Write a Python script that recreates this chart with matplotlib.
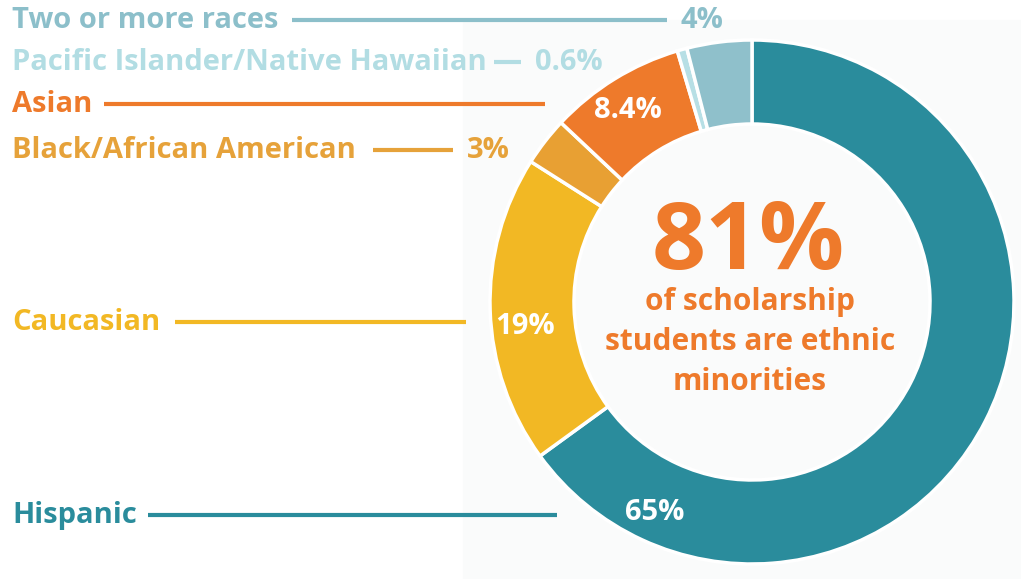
import matplotlib
matplotlib.use("Agg")
from matplotlib import pyplot as plt
from matplotlib.patches import Rectangle

W, H = 1021, 579

categories = ["Hispanic", "Caucasian", "Black/African American", "Asian",
              "Pacific Islander/Native Hawaiian", "Two or more races"]
shares = [65, 19, 3, 8.4, 0.6, 4]
share_labels = ["65%", "19%", "3%", "8.4%", "0.6%", "4%"]
colors = ["#2a8c9c", "#f2b824", "#e8a033", "#ee7a2b", "#b7dfe5", "#8fc0cb"]
text_colors = ["#2a8c9c", "#f2b824", "#e6a23a", "#ee7a2b", "#b2dde3", "#8cbfca"]

headline = "81%"
subline = "of scholarship\nstudents are ethnic\nminorities"

FONT = "Open Sans"
FS = 21


def py(y):
    # pixel row (from top) -> data y
    return H - y


fig = plt.figure(figsize=(W / 100, H / 100), dpi=100)
ax = fig.add_axes([0, 0, 1, 1])

ax.add_patch(Rectangle((463, 0), W - 463, py(20), color="#fafbfb", zorder=0))

cx, cy, r_out, ring = 752, py(302), 262, 84
ax.pie(shares, colors=colors, startangle=90, counterclock=False,
       center=(cx, cy), radius=r_out,
       wedgeprops=dict(width=ring, edgecolor="white", linewidth=2.5))
ax.set_xlim(0, W)
ax.set_ylim(0, H)
ax.set_aspect("equal")
ax.axis("off")

# left labels: (text y, line start, line end, pct x or None for inside)
rows = {
    "Two or more races": (20, 292, 667, 680),
    "Pacific Islander/Native Hawaiian": (62, 494, 521, 535),
    "Asian": (104, 104, 545, None),
    "Black/African American": (150, 373, 453, 467),
    "Caucasian": (322, 175, 466, None),
    "Hispanic": (515, 148, 557, None),
}
inside = {"Asian": (628, 110), "Caucasian": (525, 327), "Hispanic": (655, 512)}

for name, lab, tc in zip(categories, share_labels, text_colors):
    y, x0, x1, px = rows[name]
    ax.text(12, py(y), name, color=tc, fontsize=FS, fontweight="bold",
            family=FONT, va="center", ha="left")
    ax.plot([x0, x1], [py(y), py(y)], color=tc, lw=3, solid_capstyle="butt")
    if px is not None:
        ax.text(px, py(y), lab, color=tc, fontsize=FS, fontweight="bold",
                family=FONT, va="center", ha="left")
    else:
        ix, iy = inside[name]
        ax.text(ix, py(iy), lab, color="white", fontsize=FS, fontweight="bold",
                family=FONT, va="center", ha="center")

ax.text(748, py(245), headline, color="#ee7a2b", fontsize=68, fontweight="bold",
        family=FONT, va="center", ha="center")
ax.text(750, py(342), subline, color="#ee7a2b", fontsize=21.5, fontweight="bold",
        family=FONT, va="center", ha="center", linespacing=1.42)

fig.savefig("out.png", dpi=100)
